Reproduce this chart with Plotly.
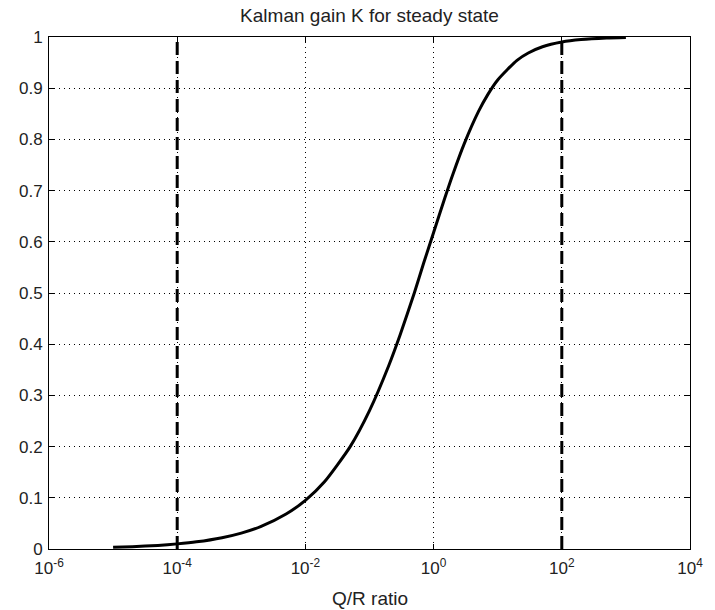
import plotly.graph_objects as go

# Steady-state Kalman gain K versus the process/measurement noise ratio Q/R
qr_ratio = [1e-5, 2e-5, 5e-5, 1e-4, 2e-4, 5e-4, 1e-3, 2e-3, 5e-3, 1e-2, 2e-2,
            5e-2, 0.1, 0.2, 0.3, 0.5, 0.7, 1.0, 1.5, 2.0, 3.0, 5.0, 7.0, 10.0,
            20.0, 30.0, 50.0, 100.0, 200.0, 500.0, 1000.0]
gain_k = [0.0032, 0.0045, 0.0070, 0.0100, 0.0140, 0.0221, 0.0311, 0.0437,
          0.0683, 0.0951, 0.1319, 0.2000, 0.2702, 0.3583, 0.4178, 0.5000,
          0.5585, 0.6180, 0.6861, 0.7321, 0.7913, 0.8541, 0.8875, 0.9161,
          0.9545, 0.9688, 0.9810, 0.9902, 0.9950, 0.9980, 0.9990]

# Bounds of the region of interest (dashed markers)
bound_ratios = [1e-4, 1e2]
k_span = [0, 1]

x_tickvals = [1e-6, 1e-4, 1e-2, 1e0, 1e2, 1e4]
x_ticktext = ["10<sup>-6</sup>", "10<sup>-4</sup>", "10<sup>-2</sup>",
              "10<sup>0</sup>", "10<sup>2</sup>", "10<sup>4</sup>"]
y_tickvals = [0, 0.1, 0.2, 0.3, 0.4, 0.5, 0.6, 0.7, 0.8, 0.9, 1]
y_ticktext = ["0", "0.1", "0.2", "0.3", "0.4", "0.5", "0.6", "0.7", "0.8", "0.9", "1"]

fig = go.Figure()

fig.add_trace(go.Scatter(
    x=qr_ratio, y=gain_k, mode="lines",
    line=dict(color="black", width=3, shape="spline", smoothing=0.6),
    showlegend=False, hoverinfo="skip",
))

for b in bound_ratios:
    fig.add_trace(go.Scatter(
        x=[b, b], y=k_span, mode="lines",
        line=dict(color="black", width=3, dash="13px,6px"),
        showlegend=False, hoverinfo="skip",
    ))

font = dict(family="Liberation Sans, Arial, sans-serif", size=17, color="#222222")

fig.update_layout(
    width=715, height=610,
    margin=dict(l=49, r=15, t=37, b=61),
    paper_bgcolor="white", plot_bgcolor="white",
    font=font,
    title=dict(text="Kalman gain K for steady state", x=0.5, xref="paper",
               xanchor="center", y=0.975, yref="container", yanchor="middle",
               font=dict(size=19)),
    xaxis=dict(
        type="log", range=[-6, 4],
        tickmode="array", tickvals=x_tickvals, ticktext=x_ticktext,
        ticks="inside", ticklen=5, tickcolor="black", tickwidth=1,
        showline=True, linecolor="black", linewidth=1, mirror="ticks",
        showgrid=True, gridcolor="black", gridwidth=1, griddash="1px,4px",
        zeroline=False, tickfont=dict(size=17), ticklabelstandoff=4,
    ),
    yaxis=dict(
        range=[0, 1],
        tickmode="array", tickvals=y_tickvals, ticktext=y_ticktext,
        ticks="inside", ticklen=5, tickcolor="black", tickwidth=1,
        showline=True, linecolor="black", linewidth=1, mirror="ticks",
        showgrid=True, gridcolor="black", gridwidth=1, griddash="1px,4px",
        zeroline=False, tickfont=dict(size=17), ticklabelstandoff=2,
    ),
    annotations=[dict(
        text="Q/R ratio", x=0.5, xref="paper", y=-0.096, yref="paper",
        xanchor="center", yanchor="middle", showarrow=False,
        font=dict(size=19),
    )],
)

fig.write_html("out.html")
